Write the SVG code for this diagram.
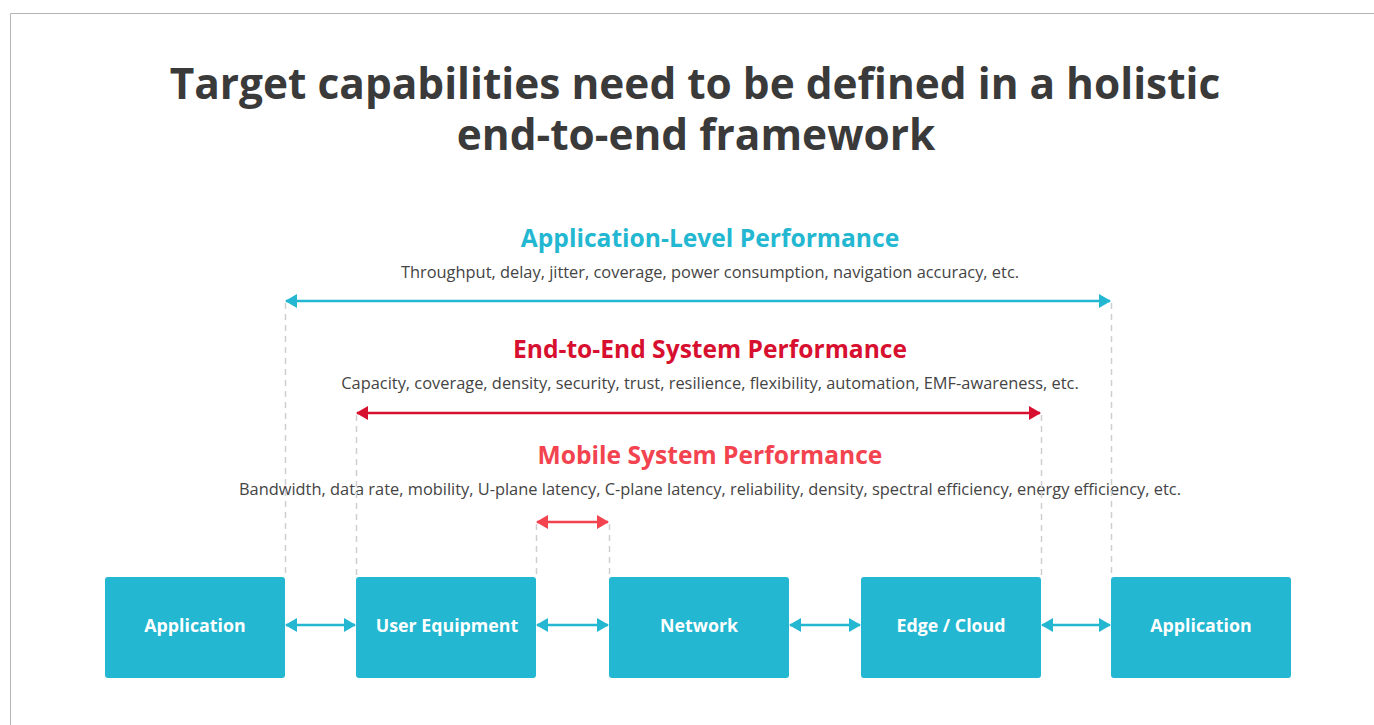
<svg xmlns="http://www.w3.org/2000/svg" width="1374" height="725" viewBox="0 0 1374 725">
<defs>
<style>
.title{font-family:"Open Sans","Liberation Sans",sans-serif;font-weight:700;font-size:42.4px;fill:#3a3a3a;text-anchor:middle}
.hdr{font-family:"Open Sans","Liberation Sans",sans-serif;font-weight:700;font-size:24.6px;text-anchor:middle}
.sub{font-family:"Open Sans","Liberation Sans",sans-serif;font-size:16.4px;fill:#444;text-anchor:middle}
.box{fill:#23b7d1}
.lbl{font-family:"Open Sans","Liberation Sans",sans-serif;font-weight:700;font-size:17.8px;fill:#fff;text-anchor:middle}
.dash{stroke:#cfcfcf;stroke-width:1.5;stroke-dasharray:6 5;fill:none}
.cy{stroke:#23b7d1;stroke-width:2.5;fill:none}
.rd{stroke:#d8102f;stroke-width:2.5;fill:none}
.pk{stroke:#f2434f;stroke-width:2.5;fill:none}
</style>
<marker id="mc" viewBox="0 0 12 14" refX="11" refY="7" markerWidth="12" markerHeight="14" markerUnits="userSpaceOnUse" orient="auto-start-reverse"><path d="M0,0 L12,7 L0,14 Z" fill="#23b7d1"/></marker>
<marker id="mr" viewBox="0 0 12 14" refX="11" refY="7" markerWidth="12" markerHeight="14" markerUnits="userSpaceOnUse" orient="auto-start-reverse"><path d="M0,0 L12,7 L0,14 Z" fill="#d8102f"/></marker>
<marker id="mp" viewBox="0 0 12 14" refX="11" refY="7" markerWidth="12" markerHeight="14" markerUnits="userSpaceOnUse" orient="auto-start-reverse"><path d="M0,0 L12,7 L0,14 Z" fill="#f2434f"/></marker>
</defs>
<rect width="1374" height="725" fill="#fff"/>
<path d="M10.5,725 V13.5 H1374" stroke="#b5b5b5" stroke-width="1" fill="none"/>
<g id="title">
<text class="title"><tspan x="695" y="99">Target capabilities need to be defined in a holistic</tspan><tspan x="696" y="150">end-to-end framework</tspan></text>
</g>
<g id="app-level">
<text class="hdr" x="710" y="247" fill="#23b7d1">Application-Level Performance</text>
<text class="sub" x="710" y="278">Throughput, delay, jitter, coverage, power consumption, navigation accuracy, etc.</text>
</g>
<g id="e2e-level">
<text class="hdr" x="710" y="358" fill="#d8102f">End-to-End System Performance</text>
<text class="sub" x="710" y="389">Capacity, coverage, density, security, trust, resilience, flexibility, automation, EMF-awareness, etc.</text>
</g>
<g id="mobile-level">
<text class="hdr" x="710" y="464" fill="#f2434f">Mobile System Performance</text>
<text class="sub" x="710" y="495">Bandwidth, data rate, mobility, U-plane latency, C-plane latency, reliability, density, spectral efficiency, energy efficiency, etc.</text>
</g>
<g id="connectors">
<path class="dash" d="M285.5,303 V577 M1111.5,303 V577 M356.5,415 V577 M1041.5,415 V577 M536.5,524 V577 M609.5,524 V577"/>
<line class="cy" x1="286" y1="301" x2="1110" y2="301" marker-start="url(#mc)" marker-end="url(#mc)"/>
<line class="rd" x1="357" y1="413" x2="1040" y2="413" marker-start="url(#mr)" marker-end="url(#mr)"/>
<line class="pk" x1="537" y1="522" x2="608" y2="522" marker-start="url(#mp)" marker-end="url(#mp)"/>
<line class="cy" x1="286" y1="625" x2="355" y2="625" marker-start="url(#mc)" marker-end="url(#mc)"/>
<line class="cy" x1="537" y1="625" x2="608" y2="625" marker-start="url(#mc)" marker-end="url(#mc)"/>
<line class="cy" x1="790" y1="625" x2="860" y2="625" marker-start="url(#mc)" marker-end="url(#mc)"/>
<line class="cy" x1="1042" y1="625" x2="1110" y2="625" marker-start="url(#mc)" marker-end="url(#mc)"/>
</g>
<g id="node-app1"><rect class="box" x="105" y="577" width="180" height="101" rx="3"/><text class="lbl" x="195" y="632">Application</text></g>
<g id="node-ue"><rect class="box" x="356" y="577" width="180" height="101" rx="3"/><text class="lbl" x="447" y="632">User Equipment</text></g>
<g id="node-net"><rect class="box" x="609" y="577" width="180" height="101" rx="3"/><text class="lbl" x="699" y="632">Network</text></g>
<g id="node-edge"><rect class="box" x="861" y="577" width="180" height="101" rx="3"/><text class="lbl" x="951" y="632">Edge / Cloud</text></g>
<g id="node-app2"><rect class="box" x="1111" y="577" width="180" height="101" rx="3"/><text class="lbl" x="1201" y="632">Application</text></g>
</svg>
